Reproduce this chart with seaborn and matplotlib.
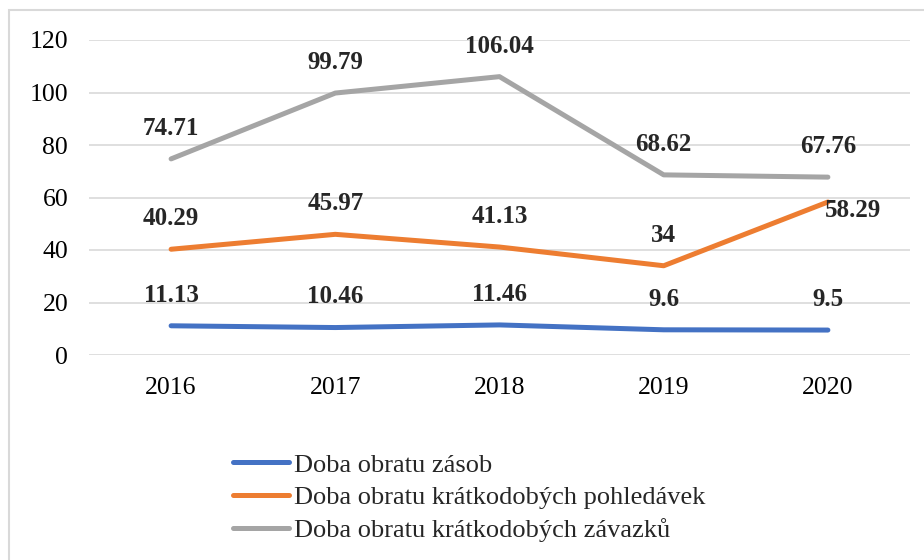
import pandas as pd
import matplotlib.pyplot as plt
import matplotlib.patches as mpatches
import seaborn as sns

# data
years = ['2016', '2017', '2018', '2019', '2020']
zasoby = [11.13, 10.46, 11.46, 9.6, 9.5]
pohledavky = [40.29, 45.97, 41.13, 34, 58.29]
zavazky = [74.71, 99.79, 106.04, 68.62, 67.76]
series_names = ['Doba obratu zásob',
                'Doba obratu krátkodobých pohledávek',
                'Doba obratu krátkodobých závazků']
colors = ['#4472C4', '#ED7D31', '#A5A5A5']

df = pd.DataFrame({
    'rok': years * 3,
    'hodnota': zasoby + pohledavky + zavazky,
    'serie': [s for s in series_names for _ in years],
})

sns.set_theme(style='white')
plt.rcParams['font.family'] = ['Liberation Serif', 'DejaVu Serif']

fig = plt.figure(figsize=(9.24, 5.6), dpi=100)
ax = fig.add_axes([89 / 924, 1 - 355 / 560, (910 - 89) / 924, 315 / 560])

sns.lineplot(data=df, x='rok', y='hodnota', hue='serie', palette=colors,
             hue_order=series_names, linewidth=3.6, sort=False, ax=ax,
             legend=True)
for line in ax.lines:
    line.set_solid_capstyle('round')

ax.set_xlim(-0.5, len(years) - 0.5)
ax.set_ylim(0, 120)
ax.set_yticks(range(0, 121, 20))
ax.yaxis.grid(True, color='#D9D9D9', linewidth=1.2)
ax.set_axisbelow(True)
for side in ['top', 'right', 'left', 'bottom']:
    ax.spines[side].set_visible(False)
ax.tick_params(axis='both', labelsize=18.5, colors='#000000', length=0)
ax.tick_params(axis='y', pad=15)
ax.tick_params(axis='x', pad=16)
ax.set_xlabel('')
ax.set_ylabel('')

# data labels
for vals in [zasoby, pohledavky, zavazky]:
    for i, v in enumerate(vals):
        txt = f'{v:g}'
        if vals is pohledavky and i == len(years) - 1:
            ax.annotate(txt, (i, v), xytext=(-2, -6), textcoords='offset points',
                        ha='left', va='center', fontsize=18, fontweight='bold')
        else:
            ax.annotate(txt, (i, v), xytext=(0, 22), textcoords='offset points',
                        ha='center', va='center', fontsize=18, fontweight='bold')

leg = ax.legend(loc='upper left', bbox_to_anchor=(220 / 924, 1 - 440 / 560),
                bbox_transform=fig.transFigure, frameon=False, fontsize=19,
                handlelength=2.1, handletextpad=0.2, labelspacing=0.34,
                borderpad=0)
for h in leg.get_lines():
    h.set_linewidth(3.6)
    h.set_solid_capstyle('round')

# chart border
fig.patches.append(mpatches.Rectangle((9 / 924, -0.05), 1.1, 1 - 10 / 560 + 0.05,
                                      transform=fig.transFigure, fill=False,
                                      edgecolor='#D9D9D9', linewidth=1.5))

fig.savefig('out.png', dpi=100)
